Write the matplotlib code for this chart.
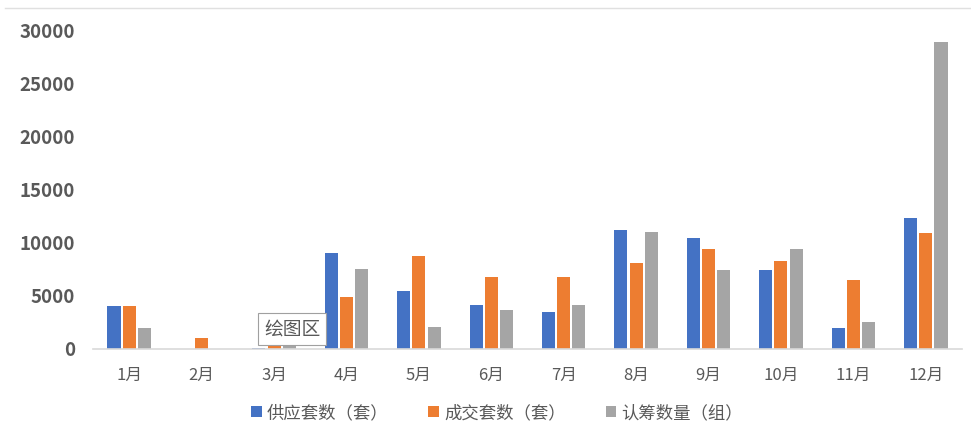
import matplotlib.pyplot as plt
import numpy as np

plt.rcParams['font.family'] = ['Noto Sans CJK SC', 'DejaVu Sans']

months = ['1月', '2月', '3月', '4月', '5月', '6月', '7月', '8月', '9月', '10月', '11月', '12月']
supply = [4000, 0, 100, 9000, 5450, 4100, 3450, 11200, 10400, 7400, 2000, 12350]
deals = [4050, 1000, 800, 4900, 8700, 6750, 6750, 8050, 9450, 8300, 6500, 10900]
subscribed = [1950, 0, 300, 7550, 2100, 3650, 4100, 11050, 7450, 9450, 2550, 28900]
series_names = ['供应套数（套）', '成交套数（套）', '认筹数量（组）']
colors = ['#4472C4', '#ED7D31', '#A5A5A5']

fig = plt.figure(figsize=(9.71, 4.28), dpi=100)
ax = fig.add_axes([93 / 971, (428 - 349) / 428, (962 - 93) / 971, (349 - 30) / 428])

x = np.arange(len(months))
w = 0.18
step = 0.21
for i, (vals, name, c) in enumerate(zip([supply, deals, subscribed], series_names, colors)):
    ax.bar(x + (i - 1) * step, vals, width=w, color=c, label=name, zorder=2)

ax.set_xlim(-0.5, 11.5)
ax.set_ylim(0, 30000)
ax.set_yticks(range(0, 30001, 5000))
ax.set_xticks(x)
ax.set_xticklabels(months)
for s in ['top', 'right', 'left']:
    ax.spines[s].set_visible(False)
ax.spines['bottom'].set_color('#D9D9D9')
ax.spines['bottom'].set_linewidth(1.2)
ax.tick_params(axis='both', length=0, colors='#595959')
ax.tick_params(axis='x', labelsize=12, pad=13)
ax.tick_params(axis='y', labelsize=13.5, pad=13)
for lbl in ax.get_yticklabels():
    lbl.set_fontweight('bold')

# Excel tooltip left in the screenshot
ax.text(2.25, 1900, '绘图区', fontsize=13.5, color='#595959', ha='center', va='center',
        bbox=dict(boxstyle='square,pad=0.3', fc='white', ec='#A0A0A0', lw=0.8), zorder=5)

fig.legend(loc='center', bbox_to_anchor=(497 / 971, 1 - 413 / 428), ncol=3, frameon=False,
           fontsize=12.5, handlelength=0.6, handleheight=0.6, handletextpad=0.3,
           columnspacing=2.3, labelcolor='#595959')

fig.add_artist(plt.Line2D([5 / 971, 1], [1 - 8 / 428, 1 - 8 / 428], color='#E0E0E0', lw=1))

fig.savefig('out.png', dpi=100)
